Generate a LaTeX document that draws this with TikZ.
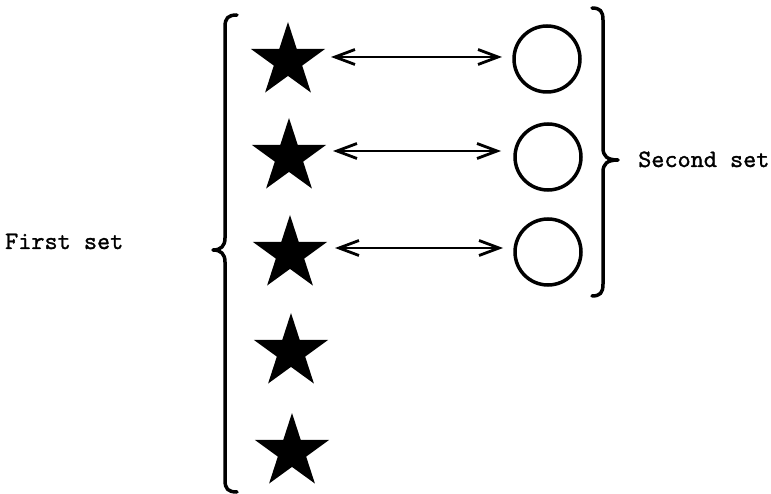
\documentclass[tikz,border=0pt]{standalone}
\usepackage{fontspec}
\newfontfamily\twfont{lmmono10-regular.otf}[FakeBold=1.2]
\usetikzlibrary{shapes.geometric,arrows.meta,calc}
\begin{document}
\begin{tikzpicture}[x=1pt,y=-1pt,
  starnode/.style={star, star points=5, star point ratio=2.618, minimum size=78pt, inner sep=0pt, fill=black, draw=none},
  ringnode/.style={circle, draw=black, line width=3.5pt, minimum size=66pt, inner sep=0pt},
  link/.style={line width=2.8pt, {Straight Barb[length=20pt,width=15pt]}-{Straight Barb[length=20pt,width=15pt]}},
  bracepath/.style={line width=3.5pt, line cap=round, line join=round},
  setlabel/.style={font=\fontsize{25}{30}\selectfont\twfont, inner sep=0pt, anchor=base west}]
\path[use as bounding box, fill=white] (0,0) rectangle (771,494);

% stars
\node[starnode] (s1) at (288,61) {};
\node[starnode] (s2) at (289,157) {};
\node[starnode] (s3) at (290,254) {};
\node[starnode] (s4) at (291,352) {};
\node[starnode] (s5) at (292,452) {};

% circles
\node[ringnode] (c1) at (547,59) {};
\node[ringnode] (c2) at (548,157) {};
\node[ringnode] (c3) at (548,252) {};

% double arrows
\draw[link] ($(s1.center)+(43,-4)$) -- ($(c1.center)+(-45,-2)$);
\draw[link] ($(s2.center)+(44,-6)$) -- ($(c2.center)+(-47,-6)$);
\draw[link] ($(s3.center)+(45,-6)$) -- ($(c3.center)+(-45,-4)$);

% left brace
\draw[bracepath] (237,15) .. controls (228,15) and (225,18) .. (225,27)
  -- (225,238) .. controls (225,246) and (221,250) .. (213,250)
  .. controls (221,250) and (225,254) .. (225,262)
  -- (225,480) .. controls (225,489) and (228,492) .. (237,492);

% right brace
\draw[bracepath] (592,8) .. controls (600,8) and (603,11) .. (603,20)
  -- (603,148) .. controls (603,156) and (607,160) .. (618,160)
  .. controls (607,160) and (603,164) .. (603,172)
  -- (603,284) .. controls (603,293) and (600,296) .. (592,296);

% labels
\node[setlabel] (first) at (5,249) {First set};
\node[setlabel] (second) at (638,167) {Second set};
\end{tikzpicture}
\end{document}
